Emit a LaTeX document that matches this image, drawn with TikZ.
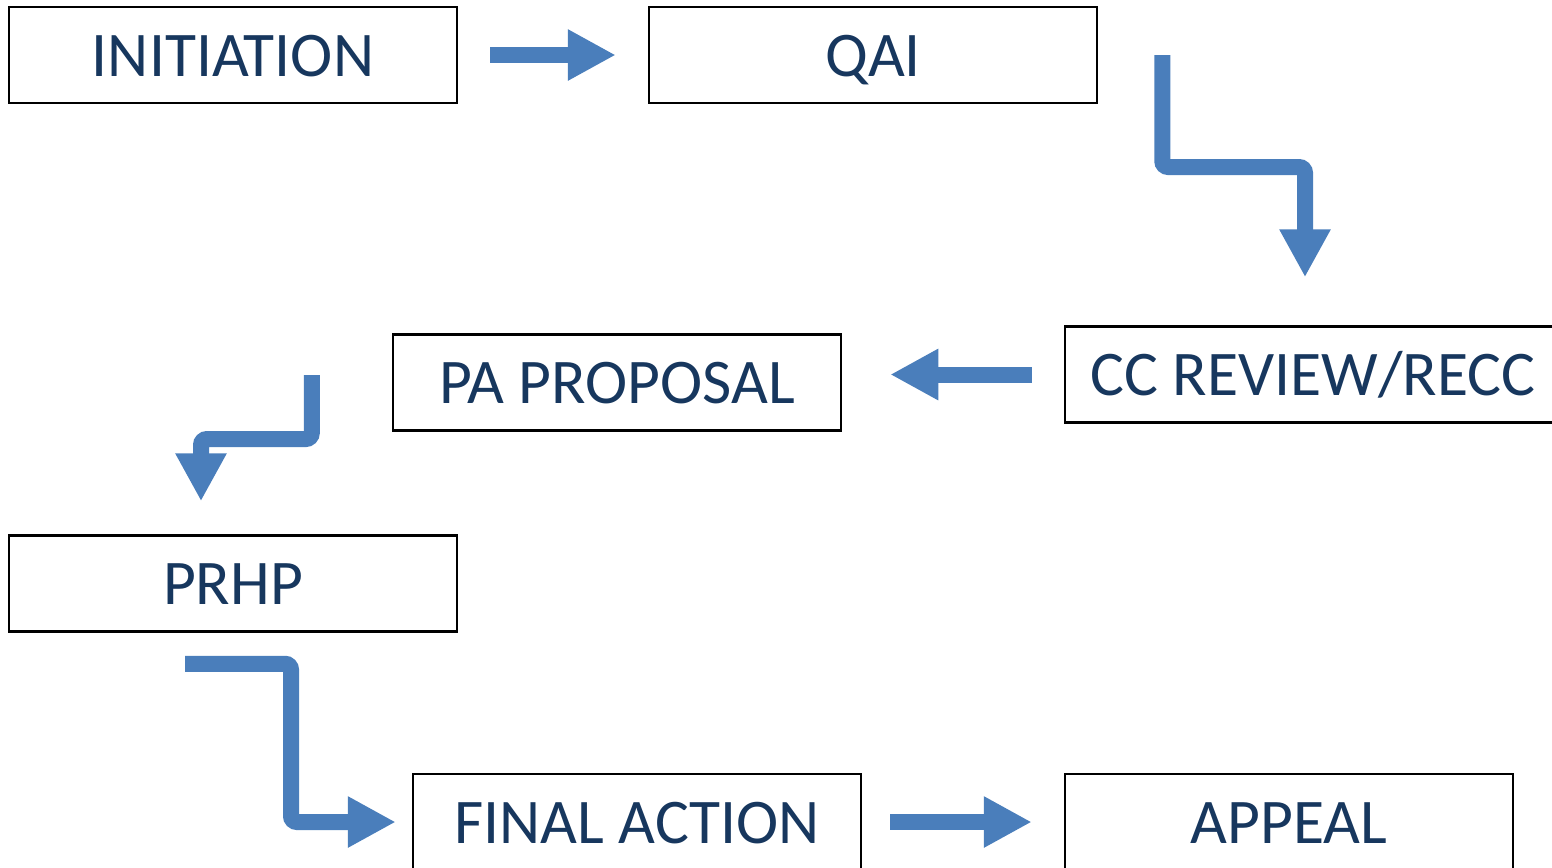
\documentclass[tikz,border=0pt]{standalone}
\usepackage{fontspec}
\setmainfont{Carlito}
\usepackage{tikz}
\usetikzlibrary{arrows.meta,calc}
\usepackage{xcolor}
\definecolor{flowblue}{RGB}{74,126,187}
\definecolor{labelnavy}{RGB}{23,55,94}

\begin{document}
\begin{tikzpicture}[x=0.1mm,y=-0.1mm,
  box/.style={draw=black,line width=0.25mm,minimum width=44.8mm,minimum height=9.6mm,inner sep=0pt,text=labelnavy,font=\fontsize{18.1}{22}\selectfont,text height=4.2mm,text depth=0pt},
  flow/.style={draw=flowblue,line width=1.6mm,rounded corners=0.6mm,-{Triangle[length=4.8mm,width=4.8mm]}}]
\useasboundingbox (0,0) rectangle (1552,867);
\node[box] (init) at (233,55) {INITIATION};
\node[box] (qai) at (873,55) {QAI};
\node[box,minimum width=49.6mm] (cc) at (1313,374.5) {CC REVIEW/RECC};
\node[box] (pa) at (617,382.5) {PA PROPOSAL};
\node[box] (prhp) at (233,583.5) {PRHP};
\node[box] (final) at (637,822) {FINAL ACTION};
\node[box] (appeal) at (1289,822) {APPEAL};
\draw[flow,shorten <=3.2mm,shorten >=3.2mm] (init) -- (qai);
\draw[flow] ($(qai.east)+(64,0)$) -- ++(0,112) -| ($(cc.north)+(-8,-48)$);
\draw[flow,shorten <=3.2mm,shorten >=4.8mm] (cc.west) -- (cc.west -| pa.east);
\draw[flow] ($(pa.west)+(-80,-7.5)$) -- ++(0,64) -| ($(prhp.north)+(-32,-33)$);
\draw[flow] ($(prhp.south)+(-48,31)$) -- ++(106,0) |- ($(final.west)+(-16,0)$);
\draw[flow,shorten <=2.8mm,shorten >=3.2mm] (final) -- (appeal);
\end{tikzpicture}
\end{document}
